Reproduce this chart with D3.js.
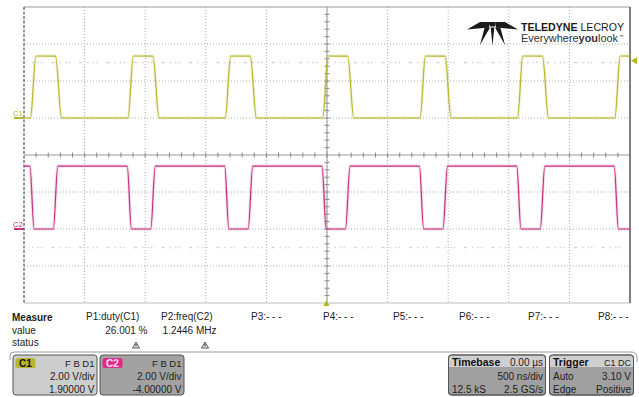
<!DOCTYPE html>
<html><head><meta charset="utf-8">
<script src="https://cdn.jsdelivr.net/npm/d3@7"></script>
<style>
html,body{margin:0;padding:0;background:#fff;}
svg{display:block;font-family:"Liberation Sans",Arial,sans-serif;}
</style></head><body>
<svg id="scope" width="639" height="397"></svg>
<script>
// ---- acquisition settings ----
const timeDivs = d3.range(-2500, 2501, 500);      // ns, 500 ns/div
const c1Divs = [-2, 0, 2, 4, 6];                  // V, 2 V/div (upper grid)
const c2Divs = [-4, -2, 0, 2, 4];                 // V, 2 V/div (lower grid)
const triggerLevel = 3.10;                        // V, C1 rising edge

// ---- C1 edges (ns) and levels (V) ----
const c1RiseStart = [-2446, -1642, -839, -35, 768, 1572, 2375];
const c1FallStart = [-2240, -1436, -633, 171, 974, 1778, 2581];
const c1Levels = [0, 3.35];          // low, high
const c1EdgeTimes = [44, 50];        // rise, fall

// ---- C2 edges (ns) and levels (V) ----
const c2FallStart = [-2451, -1648, -844, -41, 763, 1566, 2370];
const c2RiseStart = [-2258, -1454, -650, 153, 957, 1760, 2564];
const c2Levels = [0, 3.4];
const c2EdgeTimes = [37, 34];        // rise, fall

// ---- measurement table ----
const paramNames = ["P1:duty(C1)", "P2:freq(C2)", "P3:- - -", "P4:- - -", "P5:- - -", "P6:- - -", "P7:- - -", "P8:- - -"];
const paramValues = ["26.001 %", "1.2446 MHz"];
const rowNames = ["value", "status"];

// ---- channel / timebase / trigger descriptors ----
const channelNames = ["C1", "C2"];
const channelCoupling = ["F B D1", "F B D1"];
const channelScale = ["2.00 V/div", "2.00 V/div"];
const channelOffset = ["1.90000 V", "-4.00000 V"];
const timebaseText = ["0.00 µs", "500 ns/div", "12.5 kS", "2.5 GS/s"];
const triggerText = ["C1 DC", "Auto", "3.10 V", "Edge", "Positive"];

const C1_COLOR = "#b6b62c";
const C2_COLOR = "#c5327e";

const svg = d3.select("#scope");
const L = 24, R = 630, T = 7, MID = 155, B = 303;

const x = d3.scaleLinear().domain([-2500, 2500]).range([L, R]);
const yTop = d3.scaleLinear().domain([-2, 6]).range([MID, T]);
const yBot = d3.scaleLinear().domain([-4, 4]).range([B, MID]);

// ---- graticule ----
const grid = svg.append("g").attr("class", "grid");
grid.selectAll("line.v").data(timeDivs.slice(1, -1)).join("line")
  .attr("x1", d => x(d)).attr("x2", d => x(d)).attr("y1", T).attr("y2", B)
  .attr("stroke", "#aaa").attr("stroke-dasharray", "1,2");
grid.selectAll("line.h1").data(c1Divs.slice(1, -1)).join("line")
  .attr("x1", L).attr("x2", R).attr("y1", d => yTop(d)).attr("y2", d => yTop(d))
  .attr("stroke", "#aaa").attr("stroke-dasharray", "1,2");
grid.selectAll("line.h2").data(c2Divs.slice(1, -1)).join("line")
  .attr("x1", L).attr("x2", R).attr("y1", d => yBot(d)).attr("y2", d => yBot(d))
  .attr("stroke", "#aaa").attr("stroke-dasharray", "1,2");

// faint ghost rows inside each grid
[yTop(3), yBot(-1)].forEach(yy => {
  grid.append("line").attr("x1", L + 8).attr("x2", R - 4).attr("y1", yy).attr("y2", yy)
    .attr("stroke", "#d4d4d4").attr("stroke-width", 1.3)
    .attr("stroke-dasharray", "1.5,4,1.5,2,1.5,9,3,5");
});

// centre lines with minor ticks
grid.append("line").attr("x1", L).attr("x2", R).attr("y1", MID).attr("y2", MID).attr("stroke", "#999");
grid.append("line").attr("x1", x(0)).attr("x2", x(0)).attr("y1", T).attr("y2", B).attr("stroke", "#999");
grid.selectAll("line.tx").data(d3.range(-2400, 2401, 100)).join("line")
  .attr("x1", d => x(d)).attr("x2", d => x(d)).attr("y1", MID - 2.5).attr("y2", MID + 2.5)
  .attr("stroke", "#888");
grid.selectAll("line.ty1").data(d3.range(-1.6, 6, 0.4)).join("line")
  .attr("x1", x(0) - 2.5).attr("x2", x(0) + 2.5).attr("y1", d => yTop(d)).attr("y2", d => yTop(d))
  .attr("stroke", "#888");
grid.selectAll("line.ty2").data(d3.range(-3.6, 4, 0.4)).join("line")
  .attr("x1", x(0) - 2.5).attr("x2", x(0) + 2.5).attr("y1", d => yBot(d)).attr("y2", d => yBot(d))
  .attr("stroke", "#888");

// borders
grid.append("line").attr("x1", L).attr("x2", R).attr("y1", T).attr("y2", T).attr("stroke", "#999");
grid.append("line").attr("x1", L).attr("x2", R).attr("y1", B).attr("y2", B).attr("stroke", "#bbb");
grid.append("line").attr("x1", L).attr("x2", L).attr("y1", T).attr("y2", B)
  .attr("stroke", "#333").attr("stroke-dasharray", "3,1.5");
grid.append("line").attr("x1", R).attr("x2", R).attr("y1", T).attr("y2", B)
  .attr("stroke", "#555").attr("stroke-width", 1.5);

// ---- logo ----
const logo = svg.append("g").attr("fill", "#1a1a1a");
logo.append("path").attr("d",
  // wings
  "M467,29.5 L480,22 L490,22 L489,27.5 Z " +
  "M518,29.5 L505,22 L495,22 L496,27.5 Z " +
  // crown
  "M489.5,22 L495.5,22 L495,26.5 L490,26.5 Z " +
  // three blades fanning downward
  "M484.5,28 L490,27.5 L480,45 Z " +
  "M490.7,27.5 L494.3,27.5 L492.5,46 Z " +
  "M495,27.5 L500.5,28 L505,45 Z");
const lt = logo.append("text").attr("x", 521).attr("y", 31).attr("font-size", 11.5)
  .attr("textLength", 103).attr("lengthAdjust", "spacingAndGlyphs");
lt.append("tspan").attr("font-weight", "bold").text("TELEDYNE");
lt.append("tspan").text(" LECROY");
const lt2 = logo.append("text").attr("x", 521).attr("y", 41.5).attr("font-size", 10)
  .attr("fill", "#333").attr("textLength", 97).attr("lengthAdjust", "spacingAndGlyphs");
lt2.append("tspan").text("Everywhere");
lt2.append("tspan").attr("font-weight", "bold").text("you");
lt2.append("tspan").text("look");
logo.append("text").attr("x", 619).attr("y", 38).attr("font-size", 4.5).attr("fill", "#333").text("™");

// ---- waveforms ----
svg.append("clipPath").attr("id", "gridClip").append("rect")
  .attr("x", L).attr("y", T).attr("width", R - L).attr("height", B - T);

function edgePoints(upStart, downStart, levels, upTime, downTime, startHigh) {
  const ev = [];
  upStart.forEach(t => ev.push([t, 0]));
  downStart.forEach(t => ev.push([t, 1]));
  ev.sort((a, b) => a[0] - b[0]);
  const pts = [[-3000, startHigh ? levels[1] : levels[0]]];
  ev.forEach(([t, k]) => {
    if (k === 0) { pts.push([t, levels[0]]); pts.push([t + upTime, levels[1]]); }
    else { pts.push([t, levels[1]]); pts.push([t + downTime, levels[0]]); }
  });
  pts.push([3000, pts[pts.length - 1][1]]);
  return pts;
}

const c1Pts = edgePoints(c1RiseStart, c1FallStart, c1Levels, c1EdgeTimes[0], c1EdgeTimes[1], false);
const c2Pts = edgePoints(c2RiseStart, c2FallStart, c2Levels, c2EdgeTimes[0], c2EdgeTimes[1], true);

const traces = svg.append("g").attr("clip-path", "url(#gridClip)");
const line1 = d3.line().x(d => x(d[0])).y(d => yTop(d[1])).curve(d3.curveMonotoneX);
const line2 = d3.line().x(d => x(d[0])).y(d => yBot(d[1])).curve(d3.curveMonotoneX);
[[c1Pts, line1, C1_COLOR], [c2Pts, line2, C2_COLOR]].forEach(([pts, gen, col]) => {
  traces.append("path").attr("d", gen(pts)).attr("fill", "none")
    .attr("stroke", col).attr("stroke-opacity", 0.18).attr("stroke-width", 3);
  traces.append("path").attr("d", gen(pts)).attr("fill", "none")
    .attr("stroke", col).attr("stroke-width", 1.2);
});

// channel ground markers
[[yTop(0), C1_COLOR, "C1"], [yBot(0), C2_COLOR, "C2"]].forEach(([yy, col, name]) => {
  svg.append("text").attr("x", 13).attr("y", yy - 2).attr("font-size", 7.5)
    .attr("fill", col).text(name);
  svg.append("line").attr("x1", 14).attr("x2", L).attr("y1", yy).attr("y2", yy)
    .attr("stroke", col).attr("stroke-width", 2);
});

// trigger markers
svg.append("path")
  .attr("d", `M${R + 1},${yTop(triggerLevel)} l6,-3.5 l0,7 Z`).attr("fill", "#b4b41e");
svg.append("path")
  .attr("d", `M${x(0) - 0.5},${B - 3} l3,6 l-6,0 Z`).attr("fill", "#b4b41e");

// ---- measurement panel ----
const meas = svg.append("g").attr("font-size", 10).attr("fill", "#222");
meas.append("text").attr("x", 12).attr("y", 321).attr("font-weight", "bold").text("Measure");
rowNames.forEach((r, i) => meas.append("text").attr("x", 12).attr("y", 334 + i * 12).text(r));
const paramX = [86, 161, 251, 323, 393, 459, 528, 598];
paramNames.forEach((p, i) => meas.append("text").attr("x", paramX[i]).attr("y", 320).text(p));
const valueRight = [147.5, 216.5];
paramValues.forEach((v, i) => {
  meas.append("text").attr("x", valueRight[i]).attr("y", 334).attr("text-anchor", "end").text(v);
  const cx = valueRight[i] - 11.5, cy = 342;
  meas.append("path").attr("d", `M${cx},${cy} l3.5,6 l-7,0 Z`)
    .attr("fill", "#eee").attr("stroke", "#444").attr("stroke-width", 0.9);
  meas.append("line").attr("x1", cx).attr("x2", cx).attr("y1", cy + 2).attr("y2", cy + 4.3)
    .attr("stroke", "#222").attr("stroke-width", 1);
});

// divider with rounded ends
svg.append("path").attr("d", "M10,360 L10,356 Q10,352 14,352 L631,352 Q637,352 637,358 L637,362")
  .attr("fill", "none").attr("stroke", "#999").attr("stroke-width", 1);

// ---- channel descriptor boxes ----
const boxX = [13, 100];
const boxFill = ["#cdcdcd", "#a2a2a2"];
const badgeFill = [C1_COLOR, "#e2288a"];
const badgeText = ["#111", "#ffe3f0"];
channelNames.forEach((c, i) => {
  const g = svg.append("g").attr("transform", `translate(${boxX[i]},355)`);
  g.append("rect").attr("width", 84).attr("height", 40).attr("rx", 3)
    .attr("fill", boxFill[i]).attr("stroke", "#555").attr("stroke-width", 1);
  g.append("rect").attr("x", 2.5).attr("y", 3).attr("width", 20).attr("height", 10).attr("rx", 2.5)
    .attr("fill", badgeFill[i]);
  g.append("text").attr("x", 12.5).attr("y", 11.7).attr("text-anchor", "middle")
    .attr("font-size", 10).attr("font-weight", "bold").attr("fill", badgeText[i]).text(c);
  const right = 81.5;
  g.append("text").attr("x", right).attr("y", 11.5).attr("text-anchor", "end")
    .attr("font-size", 9.5).attr("fill", "#222").text(channelCoupling[i]);
  g.append("text").attr("x", right).attr("y", 25).attr("text-anchor", "end")
    .attr("font-size", 10).attr("fill", "#222").text(channelScale[i]);
  g.append("text").attr("x", right).attr("y", 38).attr("text-anchor", "end")
    .attr("font-size", 10).attr("fill", "#222").text(channelOffset[i]);
});

// ---- timebase & trigger boxes ----
function statusBox(x0, w, title, lines) {
  const g = svg.append("g").attr("transform", `translate(${x0},355)`);
  g.append("rect").attr("width", w).attr("height", 40).attr("rx", 3)
    .attr("fill", "#a0a0a0").attr("stroke", "#555");
  g.append("path").attr("d", `M0.5,12 L0.5,3 Q0.5,0.5 3,0.5 L${w - 3},0.5 Q${w - 0.5},0.5 ${w - 0.5},3 L${w - 0.5},12 Z`)
    .attr("fill", "#cfcfcf");
  g.append("rect").attr("width", w).attr("height", 40).attr("rx", 3)
    .attr("fill", "none").attr("stroke", "#555");
  g.append("text").attr("x", 3.5).attr("y", 10.5).attr("font-size", 10.5)
    .attr("font-weight", "bold").attr("fill", "#111").text(title);
  lines.forEach(([txt, anchor, row, size]) => {
    g.append("text").attr("x", anchor === "end" ? w - 2.5 : 3.5).attr("y", [10.5, 25, 38][row])
      .attr("text-anchor", anchor).attr("font-size", size || 10).attr("fill", "#222").text(txt);
  });
}
statusBox(448.5, 97, "Timebase", [
  [timebaseText[0], "end", 0], [timebaseText[1], "end", 1],
  [timebaseText[2], "start", 2], [timebaseText[3], "end", 2]]);
statusBox(549.5, 84, "Trigger", [
  [triggerText[0], "end", 0, 9], [triggerText[1], "start", 1], [triggerText[2], "end", 1],
  [triggerText[3], "start", 2], [triggerText[4], "end", 2]]);
</script>
</body></html>
